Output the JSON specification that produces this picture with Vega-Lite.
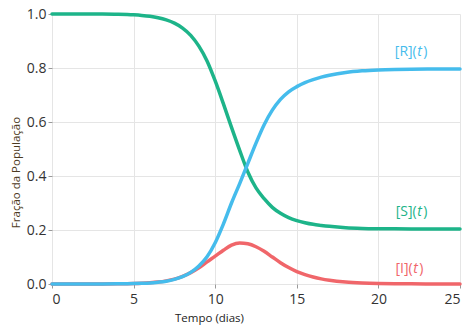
{
  "$schema": "https://vega.github.io/schema/vega-lite/v6.json",
  "width": 408,
  "height": 270,
  "autosize": "none",
  "padding": {"left": 52, "top": 14, "right": 6, "bottom": 44},
  "config": {
    "view": {"stroke": null},
    "font": "Open Sans",
    "axis": {
      "domain": false,
      "grid": true,
      "gridColor": "#e5e5e5",
      "gridWidth": 1,
      "tickColor": "#999999",
      "tickSize": 4,
      "labelFont": "Open Sans",
      "labelFontSize": 14,
      "labelColor": "#333333",
      "titleFont": "Open Sans",
      "titleFontSize": 11.5,
      "titleFontWeight": "normal"
    }
  },
  "datasets": {
    "curves": [
      {"t": 0, "S": 1.0, "I": 0.0, "R": 0.0},
      {"t": 1, "S": 1.0, "I": 0.00002, "R": 0.00002},
      {"t": 2, "S": 0.9999, "I": 0.00006, "R": 0.00006},
      {"t": 3, "S": 0.9996, "I": 0.0002, "R": 0.0002},
      {"t": 4, "S": 0.9988, "I": 0.0006, "R": 0.0006},
      {"t": 5, "S": 0.9968, "I": 0.0016, "R": 0.0016},
      {"t": 5.5, "S": 0.9948, "I": 0.0026, "R": 0.0026},
      {"t": 6, "S": 0.9916, "I": 0.0043, "R": 0.0041},
      {"t": 6.5, "S": 0.9862, "I": 0.007, "R": 0.0068},
      {"t": 7, "S": 0.978, "I": 0.0115, "R": 0.0105},
      {"t": 7.5, "S": 0.966, "I": 0.018, "R": 0.017},
      {"t": 8, "S": 0.948, "I": 0.028, "R": 0.027},
      {"t": 8.5, "S": 0.921, "I": 0.042, "R": 0.043},
      {"t": 9, "S": 0.881, "I": 0.06, "R": 0.067},
      {"t": 9.5, "S": 0.826, "I": 0.082, "R": 0.101},
      {"t": 10, "S": 0.752, "I": 0.103, "R": 0.153},
      {"t": 10.5, "S": 0.668, "I": 0.125, "R": 0.222},
      {"t": 11, "S": 0.58, "I": 0.144, "R": 0.3},
      {"t": 11.5, "S": 0.495, "I": 0.152, "R": 0.372},
      {"t": 12, "S": 0.415, "I": 0.149, "R": 0.447},
      {"t": 12.5, "S": 0.356, "I": 0.138, "R": 0.522},
      {"t": 13, "S": 0.316, "I": 0.121, "R": 0.59},
      {"t": 13.5, "S": 0.284, "I": 0.1, "R": 0.644},
      {"t": 14, "S": 0.262, "I": 0.079, "R": 0.684},
      {"t": 14.5, "S": 0.246, "I": 0.061, "R": 0.712},
      {"t": 15, "S": 0.235, "I": 0.046, "R": 0.731},
      {"t": 15.5, "S": 0.227, "I": 0.035, "R": 0.746},
      {"t": 16, "S": 0.221, "I": 0.026, "R": 0.757},
      {"t": 16.5, "S": 0.217, "I": 0.019, "R": 0.766},
      {"t": 17, "S": 0.2135, "I": 0.014, "R": 0.773},
      {"t": 18, "S": 0.2085, "I": 0.0075, "R": 0.7835},
      {"t": 19, "S": 0.206, "I": 0.004, "R": 0.7895},
      {"t": 20, "S": 0.2048, "I": 0.002, "R": 0.7928},
      {"t": 21, "S": 0.2042, "I": 0.001, "R": 0.7946},
      {"t": 22, "S": 0.2038, "I": 0.0005, "R": 0.7956},
      {"t": 23, "S": 0.2036, "I": 0.0003, "R": 0.7961},
      {"t": 24, "S": 0.2035, "I": 0.0001, "R": 0.7964},
      {"t": 25, "S": 0.2034, "I": 0.0001, "R": 0.7965}
    ],
    "labels": [
      {"series": "R", "t": 22.35, "y": 0.86, "pre": "[R]("},
      {"series": "S", "t": 22.35, "y": 0.265, "pre": "[S]("},
      {"series": "I", "t": 22.1, "y": 0.055, "pre": "[I]("}
    ]
  },
  "layer": [
    {
      "data": {"name": "curves"},
      "transform": [{"fold": ["S", "I", "R"], "as": ["series", "v"]}],
      "mark": {"type": "line", "strokeWidth": 3.5, "interpolate": "monotone", "strokeCap": "round"},
      "encoding": {
        "x": {
          "field": "t", "type": "quantitative",
          "scale": {"domain": [0, 25], "nice": false},
          "axis": {"values": [0, 5, 10, 15, 20, 25], "title": "Tempo (dias)", "titleColor": "#222222", "titleX": 157, "titleY": 28, "labelPadding": 4}
        },
        "y": {
          "field": "v", "type": "quantitative",
          "scale": {"domain": [0, 1], "nice": false},
          "axis": {"values": [0, 0.2, 0.4, 0.6, 0.8, 1.0], "format": ".1f", "title": "Fração da População", "titleColor": "#4d3a22", "titleX": -31, "titleY": 158, "labelPadding": 2}
        },
        "color": {
          "field": "series", "type": "nominal",
          "scale": {"domain": ["S", "I", "R"], "range": ["#1db489", "#f0666a", "#45bcec"]},
          "legend": null
        },
        "detail": {"field": "series"}
      }
    },
    {
      "data": {"name": "labels"},
      "mark": {"type": "text", "align": "right", "baseline": "middle", "fontSize": 14, "font": "Open Sans"},
      "encoding": {
        "x": {"field": "t", "type": "quantitative"},
        "y": {"field": "y", "type": "quantitative"},
        "text": {"field": "pre"},
        "color": {"field": "series", "type": "nominal", "legend": null}
      }
    },
    {
      "data": {"name": "labels"},
      "mark": {"type": "text", "align": "left", "baseline": "middle", "fontSize": 14, "font": "Open Sans", "fontStyle": "italic", "text": "t", "dx": 0.5},
      "encoding": {
        "x": {"field": "t", "type": "quantitative"},
        "y": {"field": "y", "type": "quantitative"},
        "color": {"field": "series", "type": "nominal", "legend": null}
      }
    },
    {
      "data": {"name": "labels"},
      "mark": {"type": "text", "align": "left", "baseline": "middle", "fontSize": 14, "font": "Open Sans", "text": ")", "dx": 6.5},
      "encoding": {
        "x": {"field": "t", "type": "quantitative"},
        "y": {"field": "y", "type": "quantitative"},
        "color": {"field": "series", "type": "nominal", "legend": null}
      }
    }
  ]
}
